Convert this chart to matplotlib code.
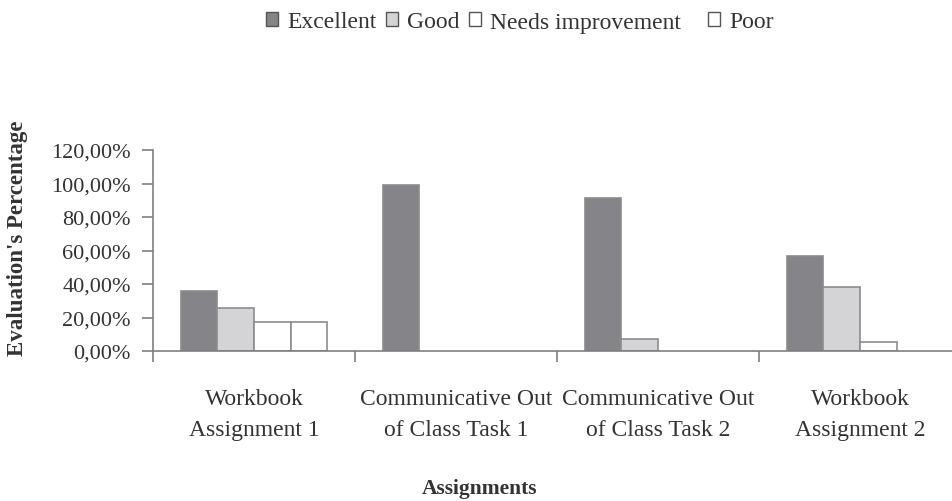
import matplotlib
matplotlib.use('Agg')
import matplotlib.pyplot as plt
import numpy as np
from matplotlib.patches import Patch
from matplotlib.ticker import FuncFormatter, FixedLocator

# data (percent)
categories = ['Workbook\nAssignment 1', 'Communicative Out\nof Class Task 1',
              'Communicative Out\nof Class Task 2', 'Workbook\nAssignment 2']
series = ['Excellent', 'Good', 'Needs improvement', 'Poor']
excellent = [35.6, 99.1, 91.5, 56.5]
good = [25.9, 0.0, 7.4, 38.0]
needs_improvement = [17.1, 0.0, 0.0, 5.4]
poor = [17.1, 0.0, 0.0, 0.0]
y_ticks = [0, 20, 40, 60, 80, 100, 120]

values = [excellent, good, needs_improvement, poor]
fills = ['#858589', '#d4d4d6', '#ffffff', '#ffffff']
edge = '#8c8c8c'
txt = '#333333'

plt.rcParams['font.family'] = ['Liberation Serif', 'DejaVu Serif']

fig = plt.figure(figsize=(9.53, 5.02), dpi=100)
ax = fig.add_axes([153/953, 150/502, 800/953, 201/502])

x = np.arange(len(categories))
w = 0.181
for i, (vals, c) in enumerate(zip(values, fills)):
    vals = np.array(vals)
    ax.bar(x + (i - 1.5)*w, vals, w, color=c, edgecolor=edge,
           linewidth=np.where(vals > 0, 1.2, 0), zorder=2)

ax.set_xlim(-0.5, -0.5 + 800/202)
ax.set_ylim(0, 120)
ax.set_yticks(y_ticks)
ax.yaxis.set_major_formatter(FuncFormatter(lambda v, p: f'{v:.2f}%'.replace('.', ',')))

ax.set_xticks(x)
ax.set_xticklabels(categories, linespacing=1.6)
ax.xaxis.set_minor_locator(FixedLocator(np.arange(-0.5, 3.6, 1.0)))
ax.tick_params(axis='x', which='major', length=0, pad=27, labelsize=17, labelcolor=txt)
ax.tick_params(axis='x', which='minor', length=8, width=1.2, color='#7f7f7f', direction='out')
ax.tick_params(axis='y', length=8, width=1.2, color='#7f7f7f', pad=8, labelsize=16, labelcolor=txt)

for s in ['top', 'right']:
    ax.spines[s].set_visible(False)
for s in ['left', 'bottom']:
    ax.spines[s].set_color('#7f7f7f')
    ax.spines[s].set_linewidth(1.2)

fig.text(18/953, 1 - 238/502, "Evaluation's Percentage", rotation=90, ha='center', va='center',
         fontsize=16.5, fontweight='bold', color=txt)
fig.text(480/953, 1 - 489/502, 'Assignments', ha='center', va='center',
         fontsize=15.5, fontweight='bold', color=txt)

handles = [Patch(facecolor=c, edgecolor='#555555', linewidth=1.0) for c in fills]
labels = ['Excellent', 'Good', 'Needs improvement   ', 'Poor']
fig.legend(handles, labels, loc='center', bbox_to_anchor=(520/953, 1 - 23/502), ncol=4,
           frameon=False, fontsize=17, handlelength=0.5, handleheight=0.5,
           handletextpad=0.4, columnspacing=0.4, labelcolor=txt)

fig.savefig('out.png', dpi=100)
